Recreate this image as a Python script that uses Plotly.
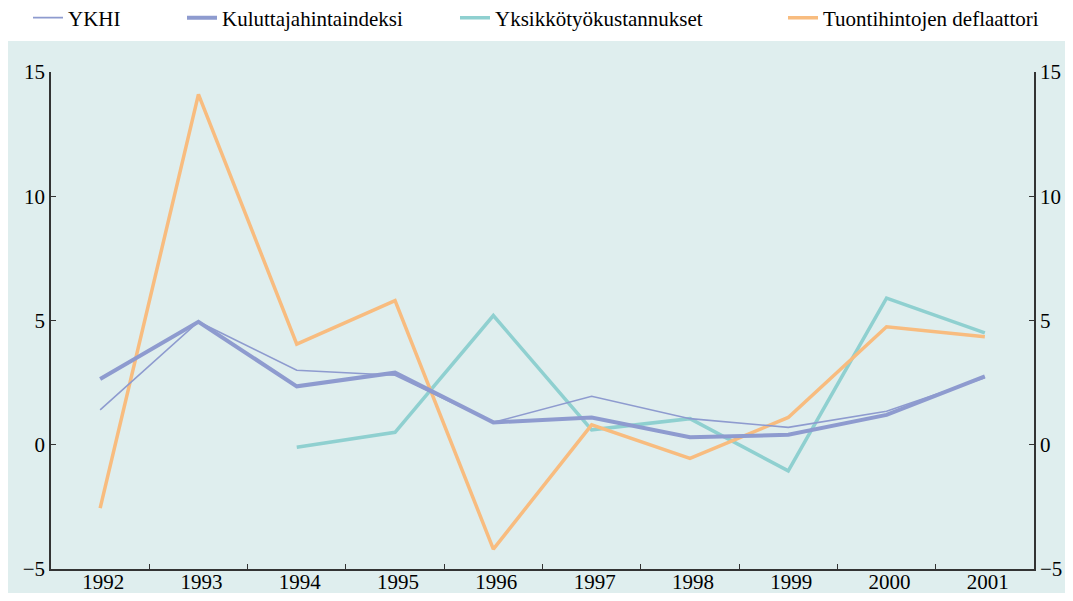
import plotly.graph_objects as go

# 데이터
years = ['1992', '1993', '1994', '1995', '1996', '1997', '1998', '1999', '2000', '2001']
ykhi = [1.4, 4.95, 3.0, 2.8, 0.9, 1.95, 1.05, 0.7, 1.35, 2.7]
kuluttaja = [2.65, 4.95, 2.35, 2.9, 0.9, 1.1, 0.3, 0.4, 1.2, 2.75]
yksikko = [None, None, -0.1, 0.5, 5.2, 0.6, 1.05, -1.05, 5.9, 4.5]
tuonti = [-2.55, 14.1, 4.05, 5.8, -4.2, 0.8, -0.55, 1.1, 4.75, 4.35]

# 색상
bg = '#dfeeee'
blue = '#8e9bcf'
teal = '#8fd0d0'
orange = '#f8bc7f'
axis_col = '#333333'
font = 'Liberation Serif, Times New Roman, serif'
fsize = 21

fig = go.Figure()

fig.add_trace(go.Scatter(x=years, y=yksikko, name='Yksikkötyökustannukset', mode='lines',
                         line=dict(color=teal, width=3.5), legend='legend3'))
fig.add_trace(go.Scatter(x=years, y=tuonti, name='Tuontihintojen deflaattori', mode='lines',
                         line=dict(color=orange, width=3.5), legend='legend4'))
fig.add_trace(go.Scatter(x=years, y=ykhi, name='YKHI', mode='lines',
                         line=dict(color=blue, width=1.6), legend='legend'))
fig.add_trace(go.Scatter(x=years, y=kuluttaja, name='Kuluttajahintaindeksi', mode='lines',
                         line=dict(color=blue, width=4), legend='legend2'))
# 오른쪽 축용 (보이지 않는 trace)
fig.add_trace(go.Scatter(x=years, y=tuonti, yaxis='y2', mode='lines', opacity=0,
                         showlegend=False, hoverinfo='skip'))

yax = dict(range=[-5, 15], tickvals=[-5, 0, 5, 10, 15], showgrid=False, zeroline=False,
           showline=True, linecolor=axis_col, linewidth=1.5,
           ticks='inside', ticklen=5, tickcolor=axis_col, tickwidth=1.2,
           tickfont=dict(family=font, size=fsize, color='black'))

leg = dict(orientation='h', yanchor='middle', y=(569 - 18) / 497, xanchor='left',
           bgcolor='rgba(0,0,0,0)', font=dict(family=font, size=fsize, color='black'))

# 범례 텍스트 시작 위치 (px)
def leg_x(text_px):
    return (text_px - 40 - 51) / 983

fig.update_layout(
    # 페이지 body 여백 8px 보정
    margin=dict(l=43, r=31, t=64, b=24, autoexpand=False),
    paper_bgcolor='white',
    plot_bgcolor=bg,
    xaxis=dict(type='category', range=[-0.5, 9.5], showgrid=False, zeroline=False,
               showline=True, linecolor=axis_col, linewidth=1.5,
               ticks='inside', tickson='boundaries', ticklen=5, tickcolor=axis_col, tickwidth=1.2,
               ticklabelstandoff=-7, ticklabelshift=3,
               tickfont=dict(family=font, size=fsize, color='black')),
    yaxis=yax,
    yaxis2=dict(yax, overlaying='y', side='right', anchor='x'),
    legend=dict(leg, x=leg_x(68)),
    legend2=dict(leg, x=leg_x(222)),
    legend3=dict(leg, x=leg_x(495)),
    legend4=dict(leg, x=leg_x(823)),
    shapes=[dict(type='rect', xref='paper', yref='paper', layer='below',
                 x0=(7 - 51) / 983, x1=(1066 - 51) / 983,
                 y0=(569 - 598) / 497, y1=(569 - 41) / 497,
                 fillcolor=bg, line=dict(width=0))],
    showlegend=True,
)

fig.write_html("out.html")
